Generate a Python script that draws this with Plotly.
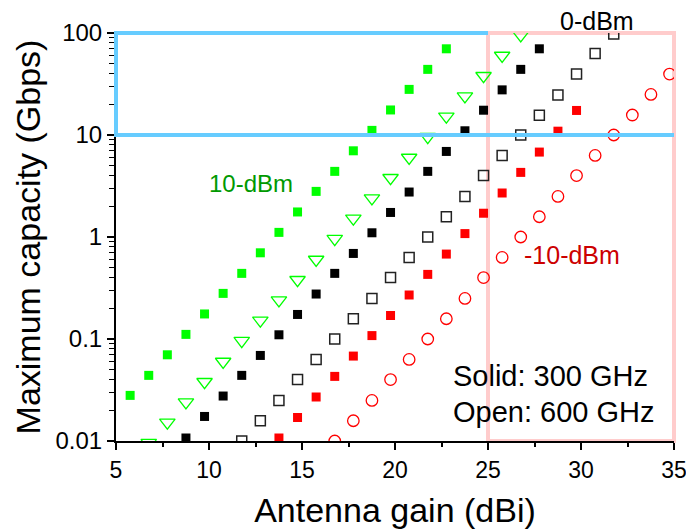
import math
import plotly.graph_objects as go

# ---- data: maximum capacity (Gbps) vs antenna gain (dBi) ----
# 300 GHz (solid markers)
gain_300_p10 = [4.76, 5.76, 6.76, 7.76, 8.76, 9.76, 10.76, 11.76, 12.76, 13.76,
                14.76, 15.76, 16.76, 17.76, 18.76, 19.76, 20.76, 21.76, 22.76]
cap_300_p10 = [0.0176, 0.028, 0.044, 0.070, 0.111, 0.176, 0.28, 0.44, 0.70, 1.11,
               1.76, 2.8, 4.4, 7.0, 11.1, 17.6, 28, 44, 70]

gain_300_0 = [8.76, 9.76, 10.76, 11.76, 12.76, 13.76, 14.76, 15.76, 16.76, 17.76,
              18.76, 19.76, 20.76, 21.76, 22.76, 23.76, 24.76, 25.76, 26.76, 27.76]
cap_300_0 = [0.0107, 0.0174, 0.0276, 0.044, 0.069, 0.110, 0.174, 0.276, 0.44, 0.69,
             1.10, 1.74, 2.76, 4.4, 6.9, 11.0, 17.5, 27.7, 44, 70]

gain_300_m10 = [13.76, 14.76, 15.76, 16.76, 17.76, 18.76, 19.76, 20.76, 21.76,
                22.76, 23.76, 24.76, 25.76, 26.76, 27.76, 28.76, 29.76]
cap_300_m10 = [0.0107, 0.017, 0.027, 0.043, 0.068, 0.108, 0.17, 0.27, 0.43,
               0.68, 1.08, 1.71, 2.7, 4.3, 6.8, 10.9, 17.4]

# 600 GHz (open markers)
gain_600_p10 = [6.76, 7.76, 8.76, 9.76, 10.76, 11.76, 12.76, 13.76, 14.76, 15.76, 16.76,
                17.76, 18.76, 19.76, 20.76, 21.76, 22.76, 23.76, 24.76, 25.76, 26.76]
cap_600_p10 = [0.0096, 0.0152, 0.024, 0.038, 0.060, 0.096, 0.152, 0.24, 0.38, 0.60, 0.96,
               1.52, 2.4, 3.8, 6.0, 9.6, 15.2, 24, 38, 60, 95]

gain_600_0 = [11.76, 12.76, 13.76, 14.76, 15.76, 16.76, 17.76, 18.76, 19.76, 20.76, 21.76,
              22.76, 23.76, 24.76, 25.76, 26.76, 27.76, 28.76, 29.76, 30.76, 31.76]
cap_600_0 = [0.0100, 0.0158, 0.025, 0.040, 0.063, 0.100, 0.158, 0.25, 0.40, 0.63, 1.00,
             1.58, 2.5, 4.0, 6.3, 10.0, 15.6, 24.7, 39.6, 63, 98]

gain_600_m10 = [16.76, 17.76, 18.76, 19.76, 20.76, 21.76, 22.76, 23.76, 24.76, 25.76,
                26.76, 27.76, 28.76, 29.76, 30.76, 31.76, 32.76, 33.76, 34.76]
cap_600_m10 = [0.0100, 0.0158, 0.025, 0.040, 0.063, 0.100, 0.158, 0.25, 0.40, 0.63,
               1.00, 1.58, 2.5, 4.0, 6.3, 10.0, 15.7, 25, 39.6]

x_ticks = [5, 10, 15, 20, 25, 30, 35]
y_ticks = [0.01, 0.1, 1, 10, 100]
y_tick_text = ["0.01", "0.1", "1", "10", "100"]

X_RANGE = [5, 35]
Y_RANGE = [-2, 2]  # log10 units

FONT = "Arial, Liberation Sans, sans-serif"
GREEN = "#00FF00"
RED = "#FF0000"


def xdom(v):
    return (v - X_RANGE[0]) / (X_RANGE[1] - X_RANGE[0])


def ydom(v):
    return (math.log10(v) - Y_RANGE[0]) / (Y_RANGE[1] - Y_RANGE[0])


fig = go.Figure()

series = [
    (gain_300_p10, cap_300_p10, dict(symbol="square", size=9, color=GREEN)),
    (gain_600_p10, cap_600_p10, dict(symbol="triangle-down-open", size=13.5, color=GREEN,
                                     line=dict(width=1.3, color=GREEN))),
    (gain_300_0, cap_300_0, dict(symbol="square", size=9, color="#000000")),
    (gain_600_0, cap_600_0, dict(symbol="square-open", size=10, color="#222222",
                                 line=dict(width=1.5, color="#222222"))),
    (gain_300_m10, cap_300_m10, dict(symbol="square", size=9, color=RED)),
    (gain_600_m10, cap_600_m10, dict(symbol="circle-open", size=11.5, color=RED,
                                     line=dict(width=1.3, color=RED))),
]
for gx, cy, mk in series:
    fig.add_trace(go.Scatter(x=gx, y=cy, mode="markers", marker=mk,
                             showlegend=False, cliponaxis=True))

# highlighted regions
fig.add_shape(type="rect", xref="x domain", yref="y domain",
              x0=xdom(25), x1=xdom(35), y0=ydom(0.01), y1=ydom(100),
              line=dict(color="#FFCCCC", width=4), layer="below")
fig.add_shape(type="path", xref="x domain", yref="y domain",
              path=(f"M {xdom(25)},{ydom(100)} L {xdom(5)},{ydom(100)} "
                    f"L {xdom(5)},{ydom(10)} L {xdom(35)},{ydom(10)}"),
              line=dict(color="#66CCFF", width=4), layer="above")

# labels
fig.add_annotation(x=12.27, y=math.log10(3.38), text="10-dBm", showarrow=False,
                   font=dict(family=FONT, size=24, color="#009900"))
fig.add_annotation(x=30.88, xref="x", y=ydom(131), yref="y domain", yanchor="middle",
                   text="0-dBm", showarrow=False,
                   font=dict(family=FONT, size=25, color="#000000"))
fig.add_annotation(x=29.5, y=math.log10(0.667), text="-10-dBm", showarrow=False,
                   font=dict(family=FONT, size=25, color="#CC0000"))
fig.add_annotation(x=23.0, y=math.log10(0.0434), text="Solid: 300 GHz", showarrow=False,
                   xanchor="left", font=dict(family=FONT, size=29, color="#000000"))
fig.add_annotation(x=23.0, y=math.log10(0.0192), text="Open: 600 GHz", showarrow=False,
                   xanchor="left", font=dict(family=FONT, size=29, color="#000000"))

fig.update_xaxes(
    range=X_RANGE, tickmode="array", tickvals=x_ticks, automargin=False,
    ticks="outside", ticklen=7, tickwidth=2, tickcolor="black",
    showline=True, linecolor="black", linewidth=2, mirror=False,
    showgrid=False, zeroline=False, ticklabeloverflow="allow",
    minor=dict(ticks="outside", ticklen=4, tickwidth=1.5, tickcolor="black",
               tickmode="array", tickvals=[7.5, 12.5, 17.5, 22.5, 27.5, 32.5]),
    tickfont=dict(family=FONT, size=23, color="black"),
    title=dict(text="Antenna gain (dBi)", font=dict(family=FONT, size=34, color="black"),
               standoff=21),
)
fig.update_yaxes(
    type="log", range=Y_RANGE, tickmode="array", tickvals=y_ticks, ticktext=y_tick_text,
    automargin=False,
    ticks="outside", ticklen=7, tickwidth=2, tickcolor="black",
    showline=True, linecolor="black", linewidth=2, mirror=False,
    showgrid=False, zeroline=False, ticklabeloverflow="allow",
    minor=dict(ticks="outside", ticklen=5, tickwidth=1.2, tickcolor="black",
               tickmode="array",
               tickvals=[m * 10 ** e for e in range(-2, 2) for m in range(2, 10)]),
    tickfont=dict(family=FONT, size=24, color="black"),
    title=dict(text="Maximum capacity (Gbps)", font=dict(family=FONT, size=34, color="black"),
               standoff=5),
)

fig.update_layout(
    width=686, height=529,
    margin=dict(l=116, r=12, t=33, b=88, autoexpand=False),
    paper_bgcolor="white", plot_bgcolor="white",
    font=dict(family=FONT),
    showlegend=False,
)

fig.write_html("out.html")
